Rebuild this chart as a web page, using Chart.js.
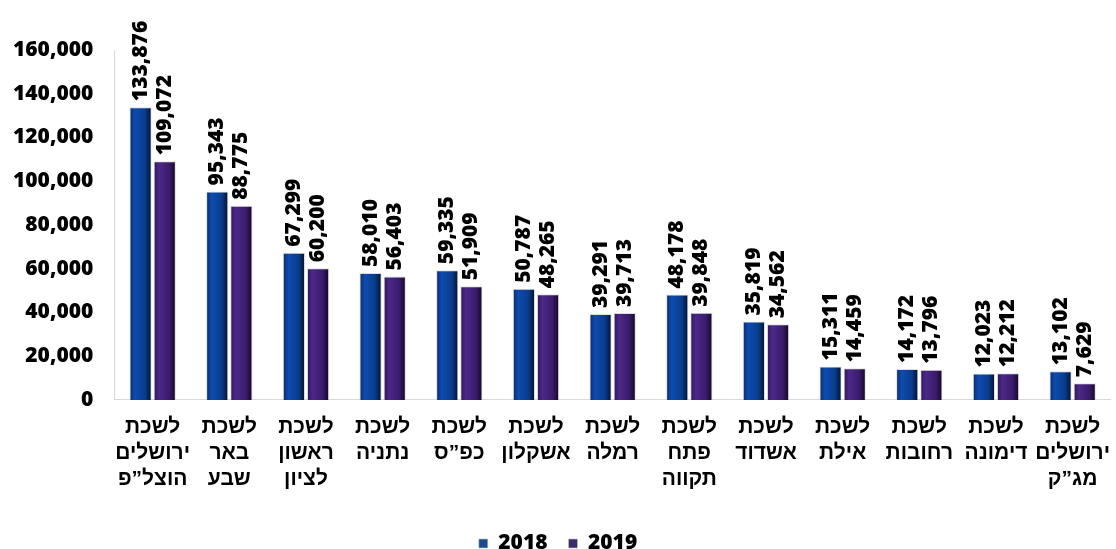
<!DOCTYPE html>
<html lang="he">
<head>
<meta charset="utf-8">
<script src="https://cdn.jsdelivr.net/npm/chart.js@4/dist/chart.umd.min.js"></script>
<style>
  html, body { margin: 0; padding: 0; background: #fff; }
  #wrap { width: 1116px; height: 549px; position: relative; }
</style>
</head>
<body>
<div id="wrap"><canvas id="myChart"></canvas></div>
<script>
// לשכות - סה"כ לפי שנה
const lishkot = [
  ['לשכת', 'ירושלים', 'הוצל”פ'],
  ['לשכת', 'באר', 'שבע'],
  ['לשכת', 'ראשון', 'לציון'],
  ['לשכת', 'נתניה'],
  ['לשכת', 'כפ”ס'],
  ['לשכת', 'אשקלון'],
  ['לשכת', 'רמלה'],
  ['לשכת', 'פתח', 'תקווה'],
  ['לשכת', 'אשדוד'],
  ['לשכת', 'אילת'],
  ['לשכת', 'רחובות'],
  ['לשכת', 'דימונה'],
  ['לשכת', 'ירושלים', 'מג”ק']
];
const data2018 = [133876, 95343, 67299, 58010, 59335, 50787, 39291, 48178, 35819, 15311, 14172, 12023, 13102];
const data2019 = [109072, 88775, 60200, 56403, 51909, 48265, 39713, 39848, 34562, 14459, 13796, 12212, 7629];
const yTicks = [0, 20000, 40000, 60000, 80000, 100000, 120000, 140000, 160000];

const NUM_FONT = "'Open Sans', 'DejaVu Sans', sans-serif";
const HEB_FONT = "'Liberation Sans', Arial, sans-serif";

// צבעי העמודות: קצה כהה, מרכז בהיר
const shades = {
  '2018': ['#0a2a66', '#0d4cb0', '#0a3c8c', '#050f26'],
  '2019': ['#2e1656', '#4c2888', '#3a1c6c', '#12071f']
};

const gradientBars = {
  id: 'gradientBars',
  beforeDatasetsDraw(chart) {
    const c = chart.ctx;
    chart.data.datasets.forEach((ds, i) => {
      const s = shades[ds.label];
      chart.getDatasetMeta(i).data.forEach(bar => {
        const g = c.createLinearGradient(bar.x - bar.width / 2, 0, bar.x + bar.width / 2, 0);
        g.addColorStop(0, s[0]);
        g.addColorStop(0.25, s[1]);
        g.addColorStop(0.7, s[2]);
        g.addColorStop(1, s[3]);
        // האפשרויות משותפות בין העמודות, לכן עותק לכל עמודה
        bar.options = Object.assign({}, bar.options, { backgroundColor: g });
      });
    });
  }
};

// תוויות ערך אנכיות מעל העמודות
const valueLabels = {
  id: 'valueLabels',
  afterDatasetsDraw(chart) {
    const c = chart.ctx;
    c.save();
    c.font = '800 21px ' + NUM_FONT;
    c.fillStyle = '#000';
    c.textAlign = 'left';
    c.textBaseline = 'middle';
    chart.data.datasets.forEach((ds, i) => {
      chart.getDatasetMeta(i).data.forEach((bar, j) => {
        c.save();
        c.translate(bar.x, bar.y - 6);
        c.rotate(-Math.PI / 2);
        c.fillText(ds.data[j].toLocaleString('en-US'), 0, 0);
        c.restore();
      });
    });
    c.restore();
  }
};

new Chart(document.getElementById('myChart'), {
  type: 'bar',
  data: {
    labels: lishkot,
    datasets: [
      { label: '2018', data: data2018, backgroundColor: '#1a4a8e', borderColor: 'rgba(200,200,200,0.6)', borderWidth: 1 },
      { label: '2019', data: data2019, backgroundColor: '#3b2a6e', borderColor: 'rgba(200,200,200,0.6)', borderWidth: 1 }
    ]
  },
  options: {
    responsive: true,
    maintainAspectRatio: false,
    animation: false,
    categoryPercentage: 0.63,
    barPercentage: 0.92,
    layout: { padding: { top: 50, right: 0, left: 0, bottom: -15 } },
    plugins: {
      legend: {
        position: 'bottom',
        labels: {
          boxWidth: 9,
          boxHeight: 9,
          padding: 21,
          color: '#000',
          font: { family: NUM_FONT, size: 21, weight: 800 }
        }
      },
      tooltip: { enabled: false }
    },
    scales: {
      x: {
        grid: { display: false },
        border: { display: true, color: '#d9d9d9', width: 1 },
        afterFit(scale) {
          scale.height += 14;
        },
        ticks: {
          color: '#000',
          maxRotation: 0,
          autoSkip: false,
          padding: 6,
          font: { family: HEB_FONT, size: 21, weight: 'bold', lineHeight: 1.24 }
        }
      },
      y: {
        min: 0,
        max: 160000,
        afterBuildTicks(scale) {
          scale.ticks = yTicks.map(v => ({ value: v }));
        },
        grid: { display: false },
        border: { display: true, color: '#d9d9d9', width: 1 },
        ticks: {
          color: '#000',
          padding: 13,
          callback: v => v.toLocaleString('en-US'),
          font: { family: NUM_FONT, size: 21, weight: 800 }
        }
      }
    }
  },
  plugins: [gradientBars, valueLabels]
});
</script>
</body>
</html>
